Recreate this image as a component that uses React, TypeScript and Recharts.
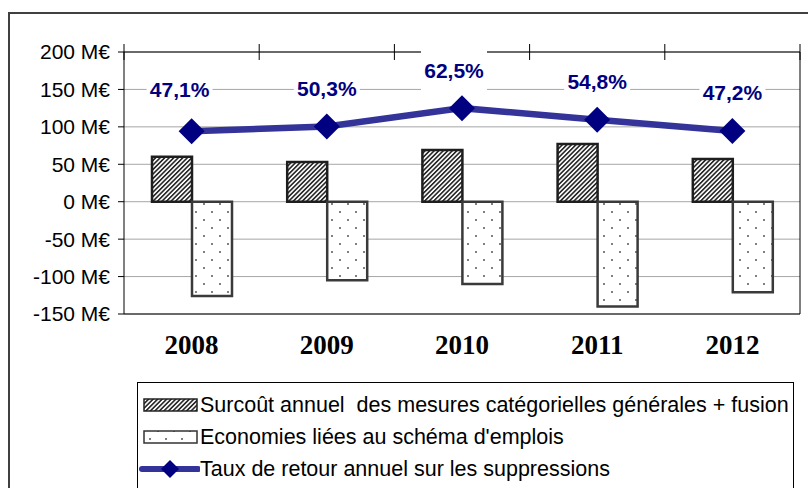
import { ComposedChart, Bar, Line, XAxis, YAxis, CartesianGrid, LabelList } from 'recharts';

const years = ['2008', '2009', '2010', '2011', '2012'];
const surcout = [60, 53, 69, 77, 57];
const economies = [-126, -105, -110, -140, -121];
const tauxRetour = [47.1, 50.3, 62.5, 54.8, 47.2];
const leftTicks = [-150, -100, -50, 0, 50, 100, 150, 200];
const rightTicks = [-75, -50, -25, 0, 25, 50, 75, 100];

const data = years.map((year, i) => ({
  year,
  surcout: surcout[i],
  economies: economies[i],
  taux: tauxRetour[i],
}));

const SANS = '"Liberation Sans", Arial, sans-serif';
const SERIF = '"Liberation Serif", "Times New Roman", serif';

const fmtPct = (v: number) => `${v.toFixed(1).replace('.', ',')}%`;

function Patterns({ prefix }: { prefix: string }) {
  return (
    <defs>
      <pattern id={`${prefix}-hatch`} width="3.2" height="3.2" patternUnits="userSpaceOnUse" patternTransform="rotate(45)">
        <rect width="3.2" height="3.2" fill="#fff" />
        <line x1="0.8" y1="0" x2="0.8" y2="3.2" stroke="#2a2a2a" strokeWidth="1.7" />
      </pattern>
      <pattern id={`${prefix}-dots`} width="16" height="16" patternUnits="userSpaceOnUse">
        <rect width="16" height="16" fill="#fff" />
        <circle cx="4" cy="4" r="0.9" fill="#444" />
        <circle cx="12" cy="12" r="0.9" fill="#444" />
      </pattern>
    </defs>
  );
}

// tick marks sit on the category boundaries, not the centres
function BoundaryTick(props: any) {
  const { x, y, payload, index } = props;
  const half = payload && payload.offset ? payload.offset : 67.6;
  const last = index === years.length - 1;
  return (
    <g>
      <line x1={x - half} x2={x - half} y1={y - 8} y2={y + 8} stroke="#000" strokeWidth={1} />
      {last && <line x1={x + half} x2={x + half} y1={y - 8} y2={y + 8} stroke="#000" strokeWidth={1} />}
    </g>
  );
}

function Diamond(props: any) {
  const { cx, cy } = props;
  const r = 13;
  return (
    <polygon
      points={`${cx},${cy - r} ${cx + r},${cy} ${cx},${cy + r} ${cx - r},${cy}`}
      fill="#000080"
    />
  );
}

const labelNudge = [[-12, -4], [0, 0], [-8, 0], [0, 0], [0, -1]];

function RateLabel(props: any) {
  const { x, y, value, index } = props;
  const [dx, dy] = labelNudge[index] || [0, 0];
  const cx = x + dx;
  const cy = y - 38 + dy;
  return (
    <g>
      <rect x={cx - 33} y={cy - 21} width={66} height={42} fill="#fff" />
      <text
        x={cx}
        y={cy + 7.5}
        textAnchor="middle"
        fill="#000080"
        fontFamily={SANS}
        fontWeight="bold"
        fontSize={21}
      >
        {fmtPct(value)}
      </text>
    </g>
  );
}

function LegendBox() {
  const row = { display: 'flex', alignItems: 'center', height: 32, whiteSpace: 'pre' as const };
  return (
    <div
      style={{
        position: 'absolute',
        left: 137,
        top: 382,
        width: 657,
        height: 110,
        border: '1.5px solid #000',
        background: '#fff',
        fontFamily: SANS,
        fontSize: 21.5,
        color: '#000',
        paddingTop: 6,
        boxSizing: 'border-box',
      }}
    >
      <div style={row}>
        <svg width={62} height={20}>
          <Patterns prefix="lg" />
          <rect x={6} y={4} width={53} height={12} fill="url(#lg-hatch)" stroke="#222" strokeWidth={1.5} />
        </svg>
        <span>Surcoût annuel  des mesures catégorielles générales + fusion</span>
      </div>
      <div style={row}>
        <svg width={62} height={20}>
          <rect x={6} y={4} width={53} height={12} fill="url(#lg-dots)" stroke="#333" strokeWidth={1.5} />
        </svg>
        <span>Economies liées au schéma d'emplois</span>
      </div>
      <div style={row}>
        <svg width={62} height={20}>
          <line x1={4} x2={60} y1={10} y2={10} stroke="#333399" strokeWidth={6} strokeLinecap="round" />
          <polygon points="32,1 41,10 32,19 23,10" fill="#000080" />
        </svg>
        <span>Taux de retour annuel sur les suppressions</span>
      </div>
    </div>
  );
}

export default function App() {
  return (
    <div style={{ position: 'relative', width: 808, height: 488, overflow: 'hidden', background: '#fff' }}>
      <style>{`body{margin:0;overflow:hidden;}`}</style>
      <div
        style={{
          position: 'absolute',
          left: 8,
          top: 12,
          width: 900,
          height: 600,
          border: '2px solid #404040',
        }}
      />
      <div style={{ position: 'absolute', left: 0, top: 0 }}>
        <ComposedChart
          width={808}
          height={488}
          data={data}
          margin={{ top: 22, right: 0, bottom: 0, left: 0 }}
          barGap={0}
          barCategoryGap={28}
        >
          <Patterns prefix="ch" />
          <CartesianGrid vertical={false} stroke="#a6a6a6" strokeWidth={1} />
          <XAxis
            dataKey="year"
            height={174}
            axisLine={{ stroke: '#000', strokeWidth: 1 }}
            tickLine={false}
            tickSize={6}
            tickMargin={15}
            tick={{ fill: '#000', fontFamily: SERIF, fontWeight: 'bold', fontSize: 27 }}
          />
          <XAxis
            xAxisId="top"
            dataKey="year"
            orientation="top"
            height={30}
            axisLine={{ stroke: '#000', strokeWidth: 1 }}
            tickLine={false}
            tickSize={0}
            tickMargin={0}
            tick={<BoundaryTick />}
          />
          <YAxis
            width={124}
            domain={[-150, 200]}
            ticks={leftTicks}
            interval={0}
            tickSize={6}
            tickMargin={8}
            axisLine={{ stroke: '#000', strokeWidth: 1 }}
            tickLine={{ stroke: '#000', strokeWidth: 1 }}
            tickFormatter={(v: number) => `${v} M€`}
            tick={{ fill: '#000', fontFamily: SANS, fontSize: 21 }}
          />
          <YAxis
            yAxisId="right"
            orientation="right"
            width={8}
            domain={[-75, 100]}
            ticks={rightTicks}
            interval={0}
            tickSize={6}
            tick={false}
            axisLine={{ stroke: '#000', strokeWidth: 1 }}
            tickLine={{ stroke: '#000', strokeWidth: 1 }}
          />
          <Bar
            dataKey="surcout"
            fill="url(#ch-hatch)"
            stroke="#1e1e1e"
            strokeWidth={2.5}
            isAnimationActive={false}
          />
          <Bar
            dataKey="economies"
            fill="url(#ch-dots)"
            stroke="#3a3a3a"
            strokeWidth={2.5}
            isAnimationActive={false}
          />
          <Line
            yAxisId="right"
            dataKey="taux"
            stroke="#333399"
            strokeWidth={6.5}
            dot={<Diamond />}
            activeDot={false}
            isAnimationActive={false}
          >
            <LabelList dataKey="taux" content={<RateLabel />} />
          </Line>
        </ComposedChart>
      </div>
      <LegendBox />
    </div>
  );
}
